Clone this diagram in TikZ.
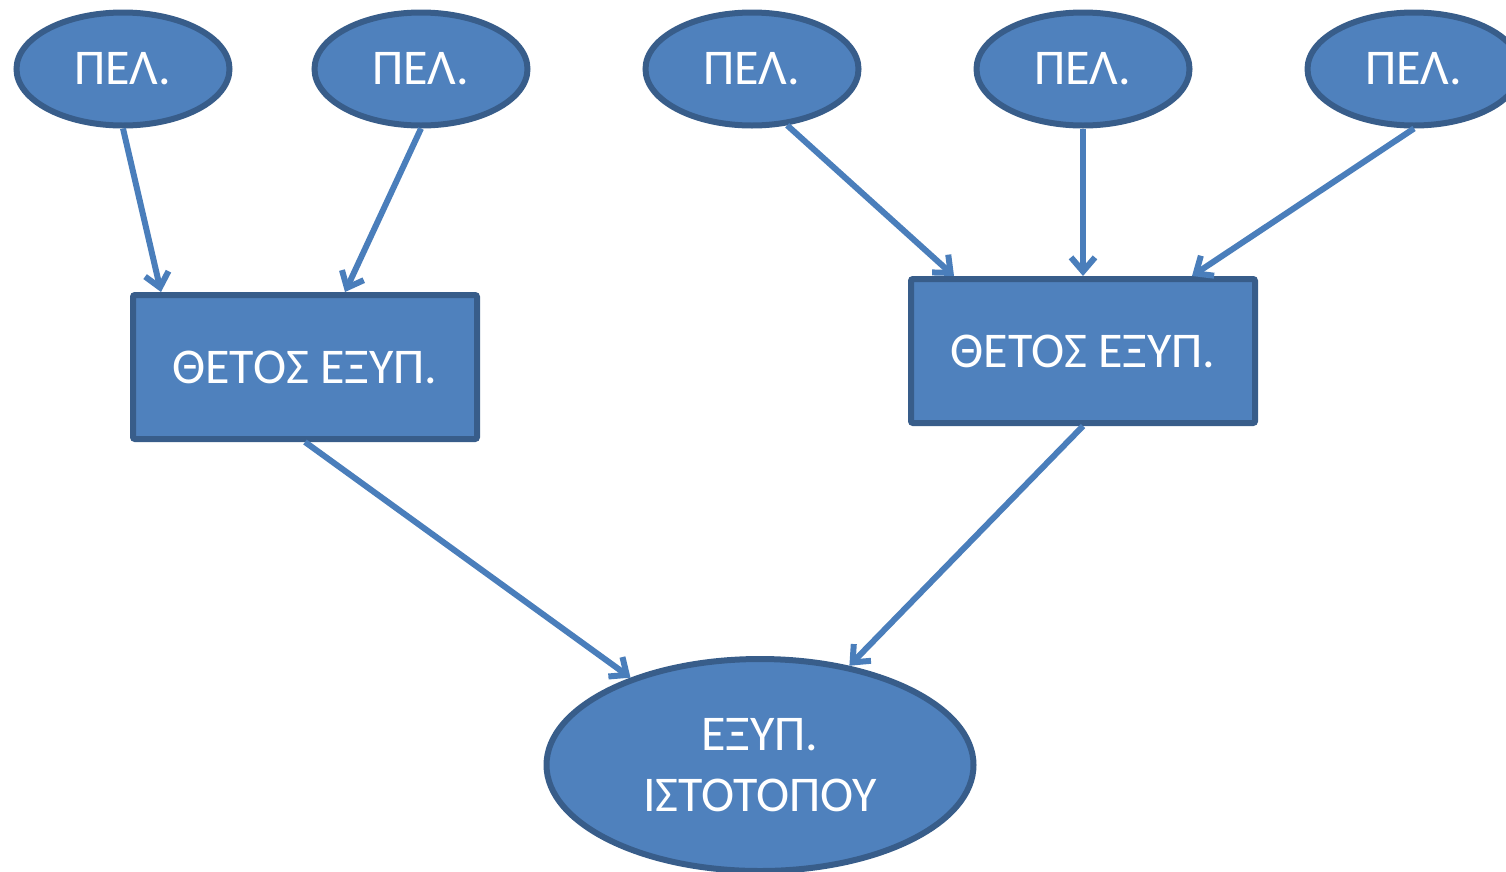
\documentclass[tikz,border=0pt]{standalone}
\usepackage{fontspec}
\setmainfont{Carlito}
\usetikzlibrary{shapes.geometric,arrows.meta}
\definecolor{boxfill}{HTML}{4F81BD}
\definecolor{boxline}{HTML}{385D8A}
\definecolor{linkcol}{HTML}{4A7EBB}
\tikzset{
  lbl/.style={text=white,font=\fontsize{50}{61}\selectfont,align=center},
  oval/.style={ellipse,lbl,fill=boxfill,draw=boxline,line width=6pt,inner sep=0pt},
  small/.style={oval,minimum width=213pt,minimum height=113pt},
  box/.style={rectangle,lbl,fill=boxfill,draw=boxline,line width=6pt,rounded corners=2pt,
    minimum width=344pt,minimum height=144pt,inner sep=0pt},
  link/.style={draw=linkcol,line width=6pt,-{Straight Barb[length=14pt,width=24pt]}}
}
\begin{document}
\begin{tikzpicture}[x=1pt,y=-1pt]
\useasboundingbox (0,0) rectangle (1506,871);
% source ovals
\node[small] (e1) at (123,69) {ΠΕΛ.};
\node[small] (e2) at (421,69) {ΠΕΛ.};
\node[small] (e3) at (752,69) {ΠΕΛ.};
\node[small] (e4) at (1083,69) {ΠΕΛ.};
\node[small] (e5) at (1414,69) {ΠΕΛ.};
% grouping boxes
\node[box] (r1) at (305,367) {ΘΕΤΟΣ ΕΞΥΠ.};
\node[box] (r2) at (1083,351) {ΘΕΤΟΣ ΕΞΥΠ.};
% final oval
\node[oval,minimum width=427pt,minimum height=212pt] (b) at (760,765) {ΕΞΥΠ.\\ΙΣΤΟΤΟΠΟΥ};
% connectors
\draw[link] (e1.south) -- ([xshift=31pt]r1.north west);
\draw[link] (e2.south) -- ([xshift=215pt]r1.north west);
\draw[link] (e3.-58) -- ([xshift=46pt]r2.north west);
\draw[link] (e4.south) -- (r2.north);
\draw[link] (e5.south) -- ([xshift=284pt]r2.north west);
\draw[link] (r1.south) -- (b.146);
\draw[link] (r2.south) -- (b.48);
\end{tikzpicture}
\end{document}
